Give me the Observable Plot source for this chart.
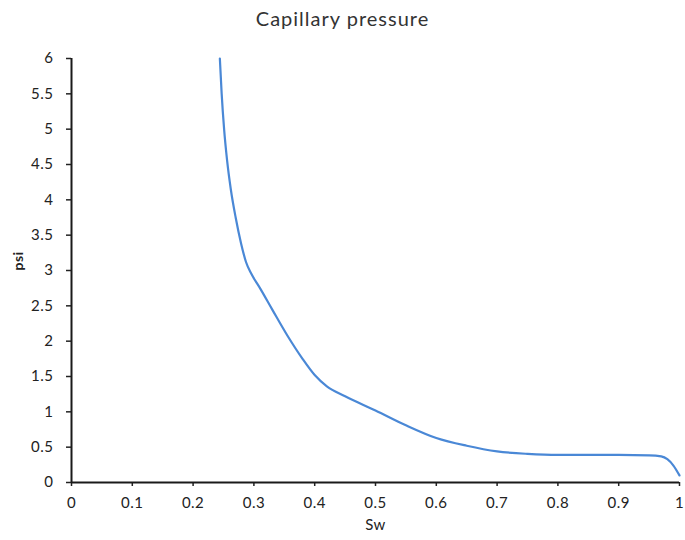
<!DOCTYPE html>
<html>
<head>
<meta charset="utf-8">
<script src="https://cdn.jsdelivr.net/npm/d3@7"></script>
<script src="https://cdn.jsdelivr.net/npm/@observablehq/plot@0.6"></script>
<style>
  html, body { margin: 0; padding: 0; background: #fff; }
  #title { height: 40px; line-height: 36px; text-align: center; font-family: Lato, "Open Sans", sans-serif; font-size: 20px; letter-spacing: 1px; color: #333; width: 685px; }
</style>
</head>
<body>
<div id="title"></div>
<div id="chart"></div>
<script>
const titleText = "Capillary pressure";
const xLabel = "Sw";
const yLabel = "psi";
const xTicks = [0, 0.1, 0.2, 0.3, 0.4, 0.5, 0.6, 0.7, 0.8, 0.9, 1];
const yTicks = [0, 0.5, 1, 1.5, 2, 2.5, 3, 3.5, 4, 4.5, 5, 5.5, 6];
const sw  = [0.244, 0.247, 0.251, 0.256, 0.262, 0.27, 0.279, 0.287, 0.296, 0.31, 0.33, 0.355, 0.38, 0.40, 0.42, 0.45, 0.50, 0.55, 0.60, 0.65, 0.70, 0.75, 0.80, 0.85, 0.90, 0.95, 0.97, 0.98, 0.99, 1.0];
const psi = [6.0, 5.5, 5.0, 4.55, 4.15, 3.75, 3.38, 3.12, 2.95, 2.75, 2.45, 2.08, 1.75, 1.52, 1.36, 1.22, 1.02, 0.81, 0.63, 0.52, 0.44, 0.405, 0.39, 0.39, 0.39, 0.385, 0.37, 0.33, 0.24, 0.1];

document.getElementById("title").textContent = titleText;
const data = sw.map((s, i) => ({sw: s, psi: psi[i]}));

const chart = Plot.plot({
  width: 685,
  height: 500,
  marginTop: 18,
  marginLeft: 71,
  marginRight: 6,
  marginBottom: 58,
  style: {fontFamily: "Lato, 'Open Sans', sans-serif", fontSize: "15px", letterSpacing: "0.5px", color: "#222", background: "#fff"},
  x: {domain: [0, 1]},
  y: {domain: [0, 6]},
  marks: [
    Plot.axisX({ticks: xTicks, tickFormat: d => String(d), tickSize: 4, tickPadding: 11, label: null, stroke: "#222", strokeWidth: 1.5}),
    Plot.axisY({ticks: yTicks, tickFormat: d => String(d), tickSize: 5, tickPadding: 13, label: null, stroke: "#222", strokeWidth: 1.5}),
    Plot.ruleY([0], {stroke: "#1a1a1a", strokeWidth: 2}),
    Plot.ruleX([0], {stroke: "#1a1a1a", strokeWidth: 2}),
    Plot.line(data, {x: "sw", y: "psi", curve: "monotone-x", stroke: "#4a88d6", strokeWidth: 2.2}),
    Plot.text([xLabel], {frameAnchor: "bottom", dy: 47, fontSize: 15, fill: "#222"}),
    Plot.text([yLabel], {frameAnchor: "left", dx: -53, rotate: -90, fontSize: 14, fontWeight: "bold", fill: "#222"})
  ]
});
document.getElementById("chart").appendChild(chart);
</script>
</body>
</html>
